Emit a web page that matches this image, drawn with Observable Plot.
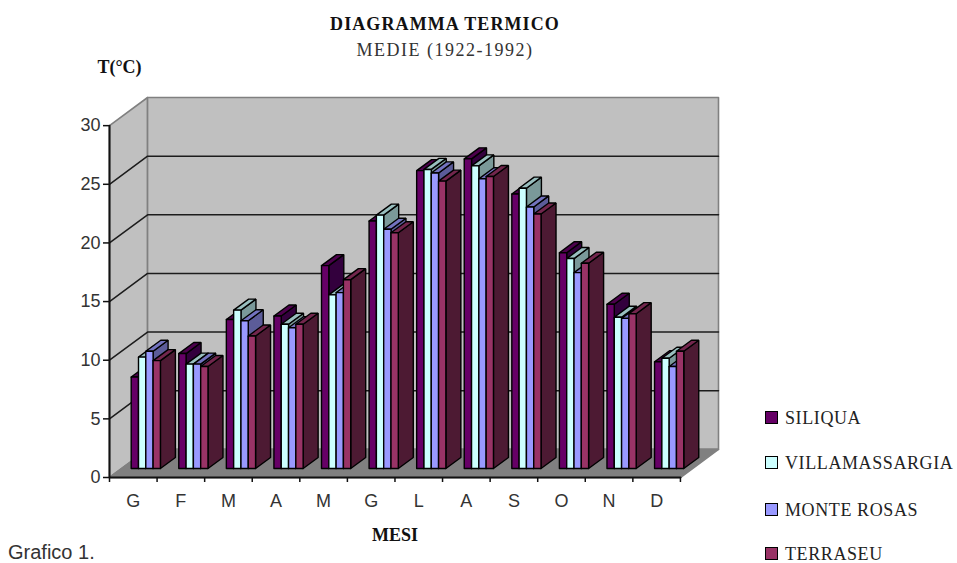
<!DOCTYPE html>
<html lang="it">
<head>
<meta charset="utf-8">
<title>Diagramma termico</title>
<script src="https://cdn.jsdelivr.net/npm/d3@7"></script>
<script src="https://cdn.jsdelivr.net/npm/@observablehq/plot@0.6"></script>
<style>
  html, body { margin: 0; background: #fff; }
  #page { position: relative; width: 957px; height: 563px; overflow: hidden; }
  #page svg { position: absolute; left: 0; top: 0; }
  .t { position: absolute; white-space: nowrap; color: #111; font-family: "Liberation Serif", serif; }
  .title { left: 245px; width: 400px; text-align: center; top: 14px; font-size: 18px; font-weight: bold; letter-spacing: 1.1px; }
  .subtitle { left: 245px; width: 400px; text-align: center; top: 40px; font-size: 18px; color: #333; letter-spacing: 1.5px; }
  .note { left: 8px; top: 541px; font: 20px/22px "Liberation Sans", sans-serif; color: #333; }
  .key { left: 785px; font-size: 18px; line-height: 16px; color: #222; letter-spacing: .6px; }
  .swatch { position: absolute; left: 765px; width: 11px; height: 11px; border: 1.5px solid #000; }
</style>
</head>
<body>
<div id="page"></div>
<script>
// Mean monthly temperature (°C), 1922-1992, per station
const months = ["G", "F", "M", "A", "M", "G", "L", "A", "S", "O", "N", "D"];
const siliqua = [7.8, 9.8, 12.7, 13.0, 17.3, 21.1, 25.4, 26.4, 23.4, 18.4, 14.0, 9.1];
const villamassargia = [9.5, 8.9, 13.5, 12.3, 14.8, 21.6, 25.5, 25.8, 23.9, 17.9, 12.9, 9.4];
const monteRosas = [10.0, 8.9, 12.6, 12.0, 15.0, 20.4, 25.2, 24.7, 22.3, 16.7, 12.8, 8.7];
const terraseu = [9.2, 8.7, 11.3, 12.3, 16.1, 20.1, 24.5, 24.9, 21.7, 17.5, 13.2, 10.0];
const yTicks = [0, 5, 10, 15, 20, 25, 30];

const stations = [
  {name: "SILIQUA", values: siliqua, front: "#660066", top: "#4d004d", side: "#33003d"},
  {name: "VILLAMASSARGIA", values: villamassargia, front: "#ccffff", top: "#99bfbf", side: "#7a9999"},
  {name: "MONTE ROSAS", values: monteRosas, front: "#9999ff", top: "#7373bf", side: "#5c5c99"},
  {name: "TERRASEU", values: terraseu, front: "#993366", top: "#73264d", side: "#4d1a33"}
];

// Oblique projection, expressed in data units of the two scales
const wallX = 0.8, wallY = 2.4;       // depth of the floor
const barX = 0.315, barY = 0.94;      // depth of a column
const barStart = 0.456, barW = 0.1535, barBase = 0.767;

// Every face is a closed polygon; draw order gives the occlusion
let faceId = 0;
const faces = [];
function face(points, fill) {
  const id = faceId++;
  for (const [x, y] of [...points, points[0]]) faces.push({x, y, fill, id});
}

months.forEach((_, i) => {
  stations.forEach((st, s) => {
    const x0 = i + barStart + s * barW, x1 = x0 + barW;
    const top = barBase + st.values[i];
    face([[x1, barBase], [x1 + barX, barBase + barY], [x1 + barX, top + barY], [x1, top]], st.side);
    face([[x0, top], [x1, top], [x1 + barX, top + barY], [x0 + barX, top + barY]], st.top);
    face([[x0, barBase], [x1, barBase], [x1, top], [x0, top]], st.front);
  });
});

const wall = (points, fill) => Plot.line([...points, points[0]], {
  x: "0", y: "1", fill, stroke: "#808080", strokeWidth: 1.6
});
const yTop = 30 + wallY, xEnd = 12 + wallX;

const chart = Plot.plot({
  width: 957,
  height: 563,
  marginLeft: 109,
  marginRight: 239,
  marginTop: 97,
  marginBottom: 86,
  style: {background: "transparent", overflow: "visible"},
  x: {domain: [0, xEnd], axis: null},
  y: {domain: [0, yTop], axis: null},
  color: {type: "identity"},
  marks: [
    wall([[0, 0], [wallX, wallY], [wallX, yTop], [0, 30]], "#c0c0c0"),
    wall([[wallX, wallY], [xEnd, wallY], [xEnd, yTop], [wallX, yTop]], "#c0c0c0"),
    wall([[0, 0], [12, 0], [xEnd, wallY], [wallX, wallY]], "#808080"),
    // gridlines run along the left wall and across the back wall
    Plot.line(yTicks.filter((t) => t > 0 && t < 30).flatMap((t) => [
      {x: 0, y: t, t}, {x: wallX, y: t + wallY, t}, {x: xEnd, y: t + wallY, t}
    ]), {x: "x", y: "y", z: "t", stroke: "#1c1c1c", strokeWidth: 1.5}),
    Plot.line(faces, {x: "x", y: "y", z: "id", fill: "fill", stroke: "#000", strokeWidth: 1.4, strokeLinejoin: "miter"}),
    Plot.line([[0, 30], [0, 0], [12, 0]], {x: "0", y: "1", stroke: "#111", strokeWidth: 2}),
    Plot.axisY(yTicks, {
      tickSize: 6, tickPadding: 3, stroke: "#111", strokeWidth: 1.5,
      fontSize: 18, fontFamily: "Liberation Sans", fill: "#333", label: null
    }),
    Plot.axisX(d3.range(0, 13), {
      tickSize: 5, stroke: "#111", strokeWidth: 1.5, tickFormat: () => "", label: null
    }),
    Plot.axisX(months.map((_, i) => i + 0.5), {
      tickSize: 0, tickPadding: 17, tickFormat: (d) => months[d - 0.5],
      fontSize: 18, fontFamily: "Liberation Sans", fill: "#333", label: null
    }),
    Plot.text(["MESI"], {
      x: 6, frameAnchor: "bottom", dy: 63, text: (d) => d,
      fontSize: 18, fontWeight: "bold", fontFamily: "Liberation Serif", fill: "#111"
    }),
    Plot.text(["T(°C)"], {
      frameAnchor: "top-left", dx: 10, dy: -37, text: (d) => d, textAnchor: "middle",
      fontSize: 18, fontWeight: "bold", fontFamily: "Liberation Serif", fill: "#111"
    })
  ]
});

const page = document.getElementById("page");
page.appendChild(chart);

function addText(cls, text, top) {
  const el = document.createElement("div");
  el.className = "t " + cls;
  el.textContent = text;
  if (top != null) el.style.top = top + "px";
  page.appendChild(el);
}
addText("title", "DIAGRAMMA TERMICO");
addText("subtitle", "MEDIE (1922-1992)");
addText("note", "Grafico 1.");

// Legend to the right of the plot
const legendRows = [418, 463, 510, 554];
stations.forEach((st, s) => {
  const sw = document.createElement("div");
  sw.className = "swatch";
  sw.style.top = legendRows[s] - 7 + "px";
  sw.style.background = st.front;
  page.appendChild(sw);
  addText("key", st.name, legendRows[s] - 8);
});
</script>
</body>
</html>
